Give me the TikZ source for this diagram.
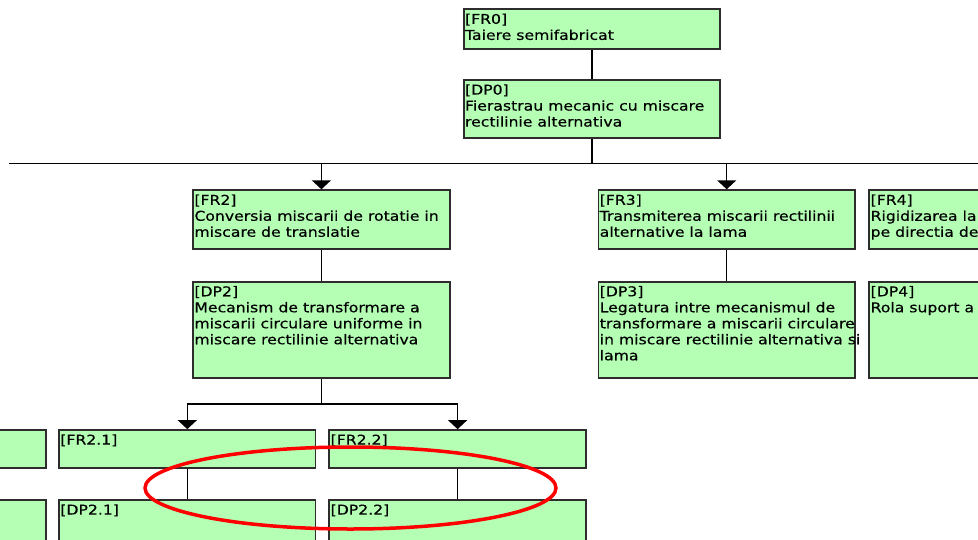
\documentclass[tikz,border=0pt]{standalone}
\usepackage{fontspec}
\usetikzlibrary{arrows.meta}
\newfontfamily\boxfont[FakeStretch=1.16,FakeBold=0.4]{DejaVu Sans}
\definecolor{boxfill}{RGB}{180,255,180}
\definecolor{boxline}{RGB}{45,45,45}
\definecolor{markred}{RGB}{255,0,0}
\begin{document}
\begin{tikzpicture}[x=1pt,y=-1pt,
  blk/.style={draw=boxline, line width=1.8pt, fill=boxfill, rectangle,
    minimum width=256.5pt, inner sep=0pt},
  txt/.style={anchor=north west, inner sep=0pt, xshift=2pt, yshift=-5pt,
    align=left, font=\boxfont\fontsize{13.5}{16}\selectfont, text=black},
  link/.style={draw=black, line width=1.5pt},
  arr/.style={link, -{Triangle[width=19pt,length=9pt]}},
]
\useasboundingbox (0,0) rectangle (978,539);
\clip (0,0) rectangle (978,539);

% top level
\node[blk, minimum height=40pt, label={[txt]north west:{[FR0]\\Taiere semifabricat}}] (fr0) at (592,29.3) {};
\node[blk, minimum height=58pt, label={[txt]north west:{[DP0]\\Fierastrau mecanic cu miscare\\rectilinie alternativa}}] (dp0) at (592,109) {};

% second level
\node[blk, minimum height=59pt, label={[txt]north west:{[FR2]\\Conversia miscarii de rotatie in\\miscare de translatie}}] (fr2) at (321.4,219.7) {};
\node[blk, minimum height=96.6pt, label={[txt]north west:{[DP2]\\Mecanism de transformare a\\miscarii circulare uniforme in\\miscare rectilinie alternativa}}] (dp2) at (321.4,330) {};

\node[blk, minimum height=59pt, label={[txt]north west:{[FR3]\\Transmiterea miscarii rectilinii\\alternative la lama}}] (fr3) at (726.7,219.7) {};
\node[blk, minimum height=96.6pt, label={[txt]north west:{[DP3]\\Legatura intre mecanismul de\\transformare a miscarii circulare\\in miscare rectilinie alternativa si\\lama}}] (dp3) at (726.7,330) {};

\node[blk, minimum height=59pt, label={[txt]north west:{[FR4]\\Rigidizarea la\\pe directia de}}] (fr4) at (997.6,219.7) {};
\node[blk, minimum height=96.6pt, label={[txt]north west:{[DP4]\\Rola suport a}}] (dp4) at (997.6,330) {};

% third level
\node[blk, minimum height=38.3pt] (frleft) at (-82.5,449.2) {};
\node[blk, minimum height=58pt] (dpleft) at (-82.5,529) {};
\node[blk, minimum height=38.3pt, label={[txt]north west:{[FR2.1]}}] (fr21) at (187.3,449.2) {};
\node[blk, minimum height=58pt, label={[txt]north west:{[DP2.1]}}] (dp21) at (187.3,529) {};
\node[blk, minimum height=38.3pt, label={[txt]north west:{[FR2.2]}}] (fr22) at (457.6,449.2) {};
\node[blk, minimum height=58pt, label={[txt]north west:{[DP2.2]}}] (dp22) at (457.6,529) {};

% FR -- DP links
\draw[link] (fr0) -- (dp0);
\draw[link] (fr2) -- (dp2);
\draw[link] (fr3) -- (dp3);
\draw[link] (fr4) -- (dp4);
\draw[link] (fr21) -- (dp21);
\draw[link] (fr22) -- (dp22);

% first distribution bus
\coordinate (busL) at (9,163.5);
\coordinate (busR) at (1000,163.5);
\draw[link] (busL) -- (busR);
\draw[link] (dp0.south) -- (dp0.south |- busL);
\draw[arr] (fr2.north |- busL) -- (fr2.north);
\draw[arr] (fr3.north |- busL) -- (fr3.north);
\draw[arr] (fr4.north |- busL) -- (fr4.north);

% second distribution bus
\coordinate (bus2) at (0,404);
\draw[link] (dp2.south) -- (dp2.south |- bus2);
\draw[link] (fr21.north |- bus2) -- (fr22.north |- bus2);
\draw[arr] (fr21.north |- bus2) -- (fr21.north);
\draw[arr] (fr22.north |- bus2) -- (fr22.north);

% red marking ellipse
\draw[markred, line width=3.5pt] (350.5,488) ellipse [x radius=205.5pt, y radius=41pt];
\end{tikzpicture}
\end{document}
